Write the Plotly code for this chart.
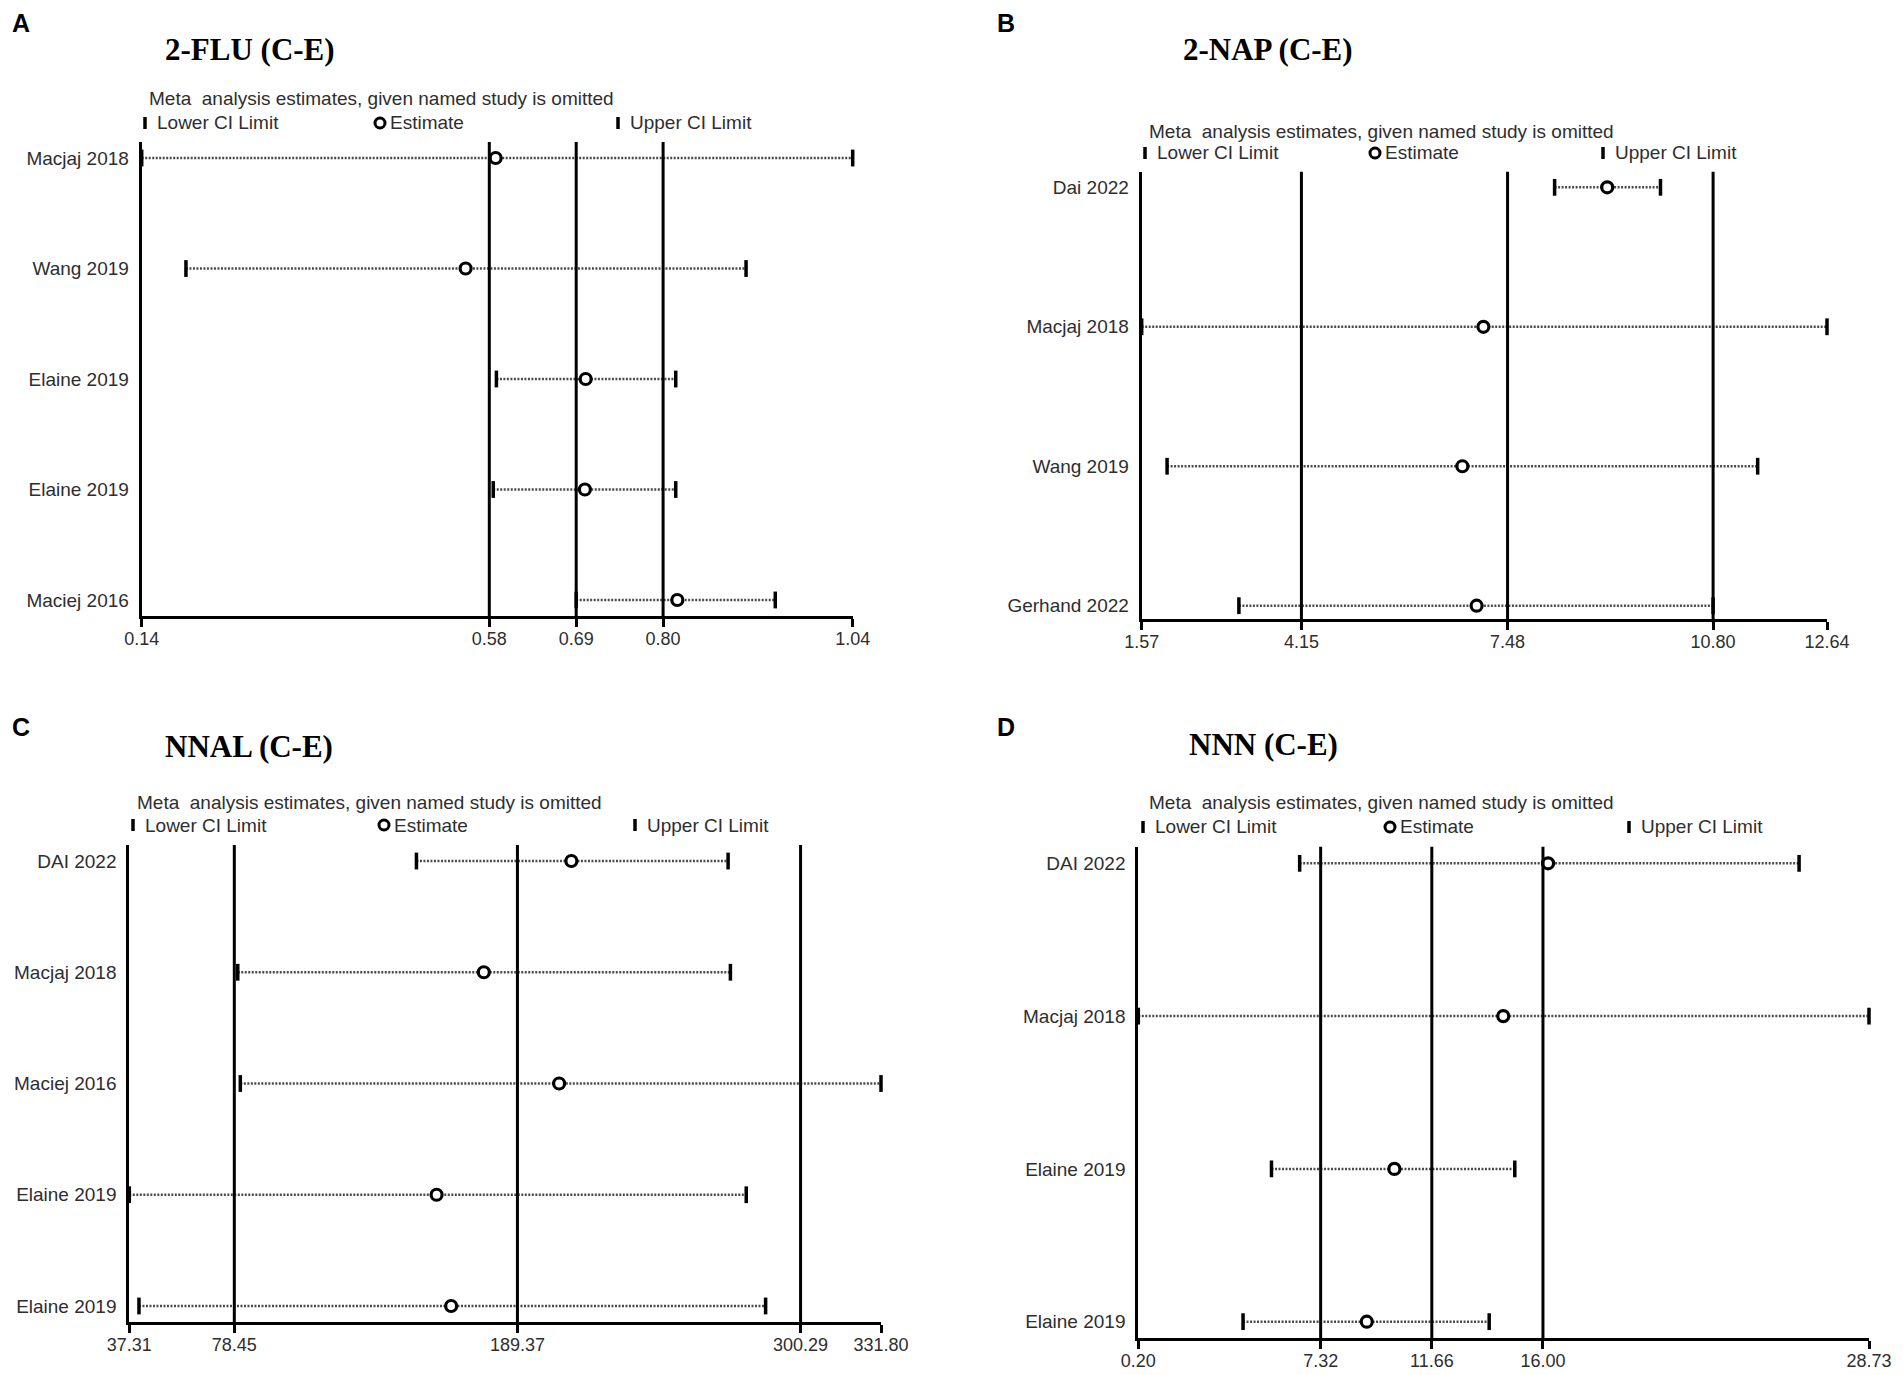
import plotly.graph_objects as go

# the page puts the figure 8px in from the top-left corner
OFF = 8
W, H = 1895, 1367

# A: 2-FLU (C-E)
flu_studies = ["Macjaj 2018", "Wang 2019", "Elaine 2019", "Elaine 2019", "Maciej 2016"]
flu_lower = [0.14, 0.196, 0.589, 0.585, 0.69]
flu_est = [0.588, 0.550, 0.702, 0.701, 0.818]
flu_upper = [1.04, 0.905, 0.816, 0.816, 0.942]
flu_ticks = [0.14, 0.58, 0.69, 0.80, 1.04]

# B: 2-NAP (C-E)
nap_studies = ["Dai 2022", "Macjaj 2018", "Wang 2019", "Gerhand 2022"]
nap_lower = [8.24, 1.57, 1.98, 3.14]
nap_est = [9.09, 7.09, 6.75, 6.98]
nap_upper = [9.95, 12.64, 11.52, 10.80]
nap_ticks = [1.57, 4.15, 7.48, 10.80, 12.64]

# C: NNAL (C-E)
nnal_studies = ["DAI 2022", "Macjaj 2018", "Maciej 2016", "Elaine 2019", "Elaine 2019"]
nnal_lower = [149.8, 79.8, 80.8, 37.31, 41.1]
nnal_est = [210.5, 176.2, 205.7, 157.7, 163.4]
nnal_upper = [271.9, 272.8, 331.8, 279.0, 286.6]
nnal_ticks = [37.31, 78.45, 189.37, 300.29, 331.80]

# D: NNN (C-E)
nnn_studies = ["DAI 2022", "Macjaj 2018", "Elaine 2019", "Elaine 2019"]
nnn_lower = [6.5, 0.20, 5.4, 4.29]
nnn_est = [16.2, 14.45, 10.2, 9.12]
nnn_upper = [26.0, 28.73, 14.9, 13.9]
nnn_ticks = [0.20, 7.32, 11.66, 16.00, 28.73]


def px(x):
    return (x - OFF) / W


def py(y):
    return 1 - (y - OFF) / H


# layout per panel (pixel positions in the 1903x1375 window)
panels = [
    dict(letter="A", title="2-FLU (C-E)", studies=flu_studies, lo=flu_lower, est=flu_est,
         hi=flu_upper, ticks=flu_ticks, x0=141.7, x1=852.7, top=142, bottom=616,
         yr=[0.855, 5.145], title_xy=(163, 49), letter_xy=(10, 23), meta_xy=(147, 98),
         leg_y=123, leg_x=(145, 380, 618)),
    dict(letter="B", title="2-NAP (C-E)", studies=nap_studies, lo=nap_lower, est=nap_est,
         hi=nap_upper, ticks=nap_ticks, x0=1141.7, x1=1827, top=171.7, bottom=619.3,
         yr=[0.9025, 4.112], title_xy=(1181, 49), letter_xy=(995, 23), meta_xy=(1147, 131),
         leg_y=153, leg_x=(1145, 1375, 1603)),
    dict(letter="C", title="NNAL (C-E)", studies=nnal_studies, lo=nnal_lower, est=nnal_est,
         hi=nnal_upper, ticks=nnal_ticks, x0=129.3, x1=881, top=845, bottom=1322,
         yr=[0.856, 5.144], title_xy=(163, 746), letter_xy=(10, 727), meta_xy=(135, 802),
         leg_y=825, leg_x=(133, 384, 635)),
    dict(letter="D", title="NNN (C-E)", studies=nnn_studies, lo=nnn_lower, est=nnn_est,
         hi=nnn_upper, ticks=nnn_ticks, x0=1138.3, x1=1869, top=846.7, bottom=1338,
         yr=[0.893, 4.109], title_xy=(1187, 744), letter_xy=(995, 727), meta_xy=(1147, 802),
         leg_y=827, leg_x=(1143, 1390, 1629)),
]

fig = go.Figure()
shapes = []
annotations = []
sans = "Liberation Sans, Arial, sans-serif"
serif = "Liberation Serif, Times New Roman, serif"
grey = "#2e2e2e"

for i, p in enumerate(panels):
    sfx = "" if i == 0 else str(i + 1)
    xa, ya = "x" + sfx, "y" + sfx
    n = len(p["studies"])
    rows = list(range(n, 0, -1))

    # dotted CI lines
    lx, ly = [], []
    for lo, hi, r in zip(p["lo"], p["hi"], rows):
        lx += [lo, hi, None]
        ly += [r, r, None]
    fig.add_trace(go.Scatter(x=lx, y=ly, mode="lines", xaxis=xa, yaxis=ya,
                             line=dict(color="#4a4a4a", width=2.5, dash="2px,1.5px"),
                             showlegend=False, hoverinfo="skip", cliponaxis=False))
    # CI caps
    fig.add_trace(go.Scatter(x=p["lo"] + p["hi"], y=rows + rows, mode="markers",
                             xaxis=xa, yaxis=ya, showlegend=False, cliponaxis=False,
                             marker=dict(symbol="line-ns", size=12,
                                         line=dict(color="black", width=3.5))))
    # estimates
    fig.add_trace(go.Scatter(x=p["est"], y=rows, mode="markers", xaxis=xa, yaxis=ya,
                             showlegend=False, cliponaxis=False,
                             marker=dict(symbol="circle", size=11, color="white",
                                         line=dict(color="black", width=3.2))))

    fig.update_layout(**{
        "xaxis" + sfx: dict(
            domain=[px(p["x0"]), px(p["x1"])], anchor=ya, automargin=False,
            range=[p["ticks"][0], p["ticks"][-1]],
            tickvals=p["ticks"], ticktext=["%.2f" % t for t in p["ticks"]],
            showgrid=False, zeroline=False, showline=True, linecolor="black",
            linewidth=3, ticks="outside", ticklen=8, tickwidth=2.5, tickcolor="black",
            ticklabelstandoff=-4,
            tickfont=dict(family=sans, size=18, color=grey),
        ),
        "yaxis" + sfx: dict(
            domain=[py(p["bottom"]), py(p["top"])], anchor=xa, range=p["yr"],
            automargin=False,
            tickvals=rows, ticktext=p["studies"], showgrid=False, zeroline=False,
            showline=True, linecolor="black", linewidth=3, ticks="",
            ticklabelstandoff=6,
            tickfont=dict(family=sans, size=19, color=grey),
        ),
    })

    # vertical reference lines at the pooled lower CI, estimate and upper CI
    for t in p["ticks"][1:4]:
        shapes.append(dict(type="line", xref=xa, yref=ya + " domain", x0=t, x1=t,
                           y0=0, y1=1, line=dict(color="black", width=3)))

    # panel letter and title
    annotations.append(dict(text="<b>%s</b>" % p["letter"], xref="paper", yref="paper",
                            x=px(p["letter_xy"][0]), y=py(p["letter_xy"][1]),
                            xanchor="left", yanchor="middle", showarrow=False,
                            font=dict(family=sans, size=25, color="black")))
    annotations.append(dict(text="<b>%s</b>" % p["title"], xref="paper", yref="paper",
                            x=px(p["title_xy"][0]), y=py(p["title_xy"][1]),
                            xanchor="left", yanchor="middle", showarrow=False,
                            font=dict(family=serif, size=31, color="black")))
    # legend block
    annotations.append(dict(text="Meta\u00a0 analysis estimates, given named study is omitted",
                            xref="paper", yref="paper", x=px(p["meta_xy"][0]),
                            y=py(p["meta_xy"][1]), xanchor="left", yanchor="middle",
                            showarrow=False, font=dict(family=sans, size=19, color=grey)))
    lx0, lx1, lx2 = p["leg_x"]
    ly0 = p["leg_y"]
    for bx in (lx0, lx2):
        shapes.append(dict(type="line", xref="paper", yref="paper", x0=px(bx), x1=px(bx),
                           y0=py(ly0 - 6), y1=py(ly0 + 6), line=dict(color="black", width=3.5)))
    shapes.append(dict(type="circle", xref="paper", yref="paper", x0=px(lx1 - 5),
                       x1=px(lx1 + 5), y0=py(ly0 + 5), y1=py(ly0 - 5),
                       line=dict(color="black", width=3), fillcolor="white"))
    for tx, txt in ((lx0 + 10, "Lower CI Limit"), (lx1 + 8, "Estimate"), (lx2 + 10, "Upper CI Limit")):
        annotations.append(dict(text=txt, xref="paper", yref="paper", x=px(tx), y=py(ly0),
                                xanchor="left", yanchor="middle", showarrow=False,
                                font=dict(family=sans, size=19, color=grey)))

fig.update_layout(
    width=W, height=H, autosize=False,
    margin=dict(l=0, r=0, t=0, b=0),
    paper_bgcolor="white", plot_bgcolor="white",
    shapes=shapes, annotations=annotations, showlegend=False,
)

fig.write_html("out.html")
